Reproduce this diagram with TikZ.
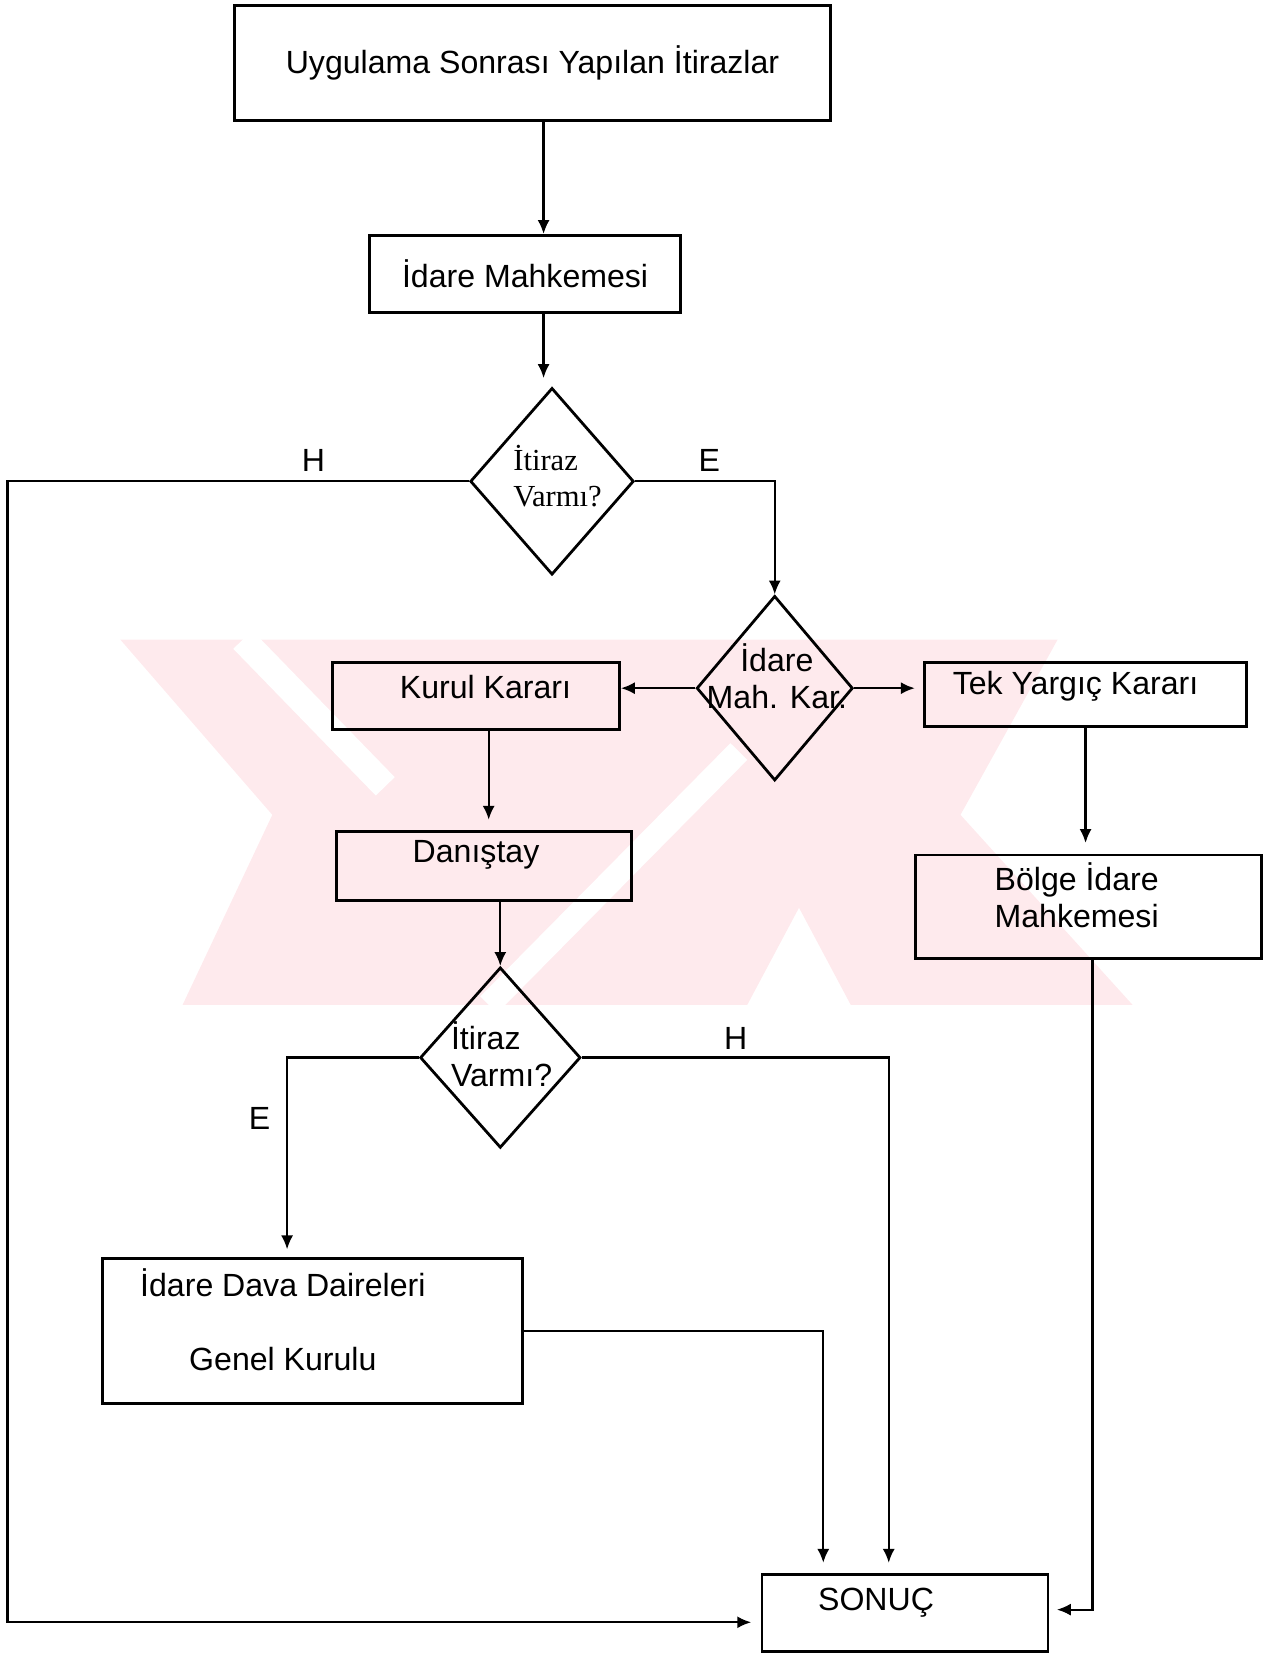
\documentclass[tikz,border=0pt]{standalone}
\usepackage{fontspec}
\setmainfont{Liberation Sans}
\newfontfamily\serifyazi{Liberation Serif}
\usepackage{tikz}
\usetikzlibrary{shapes.geometric, arrows.meta}
\definecolor{filigranPembe}{RGB}{254,234,237}
\tikzstyle{process} = [rectangle, minimum width=3cm, minimum height=1cm, inner sep=0pt, text centered, draw=black, line width=1.5pt, font=\fontsize{17.3}{20}\selectfont]
\tikzstyle{decision} = [diamond, inner sep=0pt, draw=black, line width=1.5pt]
\tikzstyle{plainText} = [inner sep=0pt, font=\fontsize{17.3}{20}\selectfont]
\tikzstyle{serifText} = [inner sep=0pt, font=\serifyazi\fontsize{16.5}{19.5}\selectfont]
\tikzstyle{arrow} = [line width=1.2pt, -{Latex[length=7.5pt,width=6.5pt]}]

\begin{document}
\begin{tikzpicture}[x=0.02cm, y=-0.02cm]
	\useasboundingbox (0,0) rectangle (1207,1568);

	% faint watermark behind the chart
	\fill [filigranPembe] (114,606) -- (1002,606) -- (910,772) -- (1073,952) -- (806,952) -- (757,860) -- (708,952) -- (173,952) -- (258,772) -- cycle;
	\draw [white, line width=0.5cm] (230,606) -- (365,745);
	\draw [white, line width=0.45cm] (463,952) -- (700,712);

	\node (basvuru) [process, minimum width=11.3cm, minimum height=2.18cm] at (504.5,59.5) {Uygulama Sonrası Yapılan İtirazlar};
	\node (idareMah) [process, minimum width=5.9cm, minimum height=1.46cm] at (497.5,259.5) {İdare Mahkemesi};

	\node (itiraz1) [decision, minimum width=3.1cm, minimum height=3.54cm] at (523,456) {};
	\node (itiraz1Yazi) [serifText, align=left, anchor=west] at (486,451) {İtiraz\\Varmı?};

	\node (mahKar) [decision, minimum width=2.96cm, minimum height=3.5cm] at (734,652) {};
	\node (mahKarYazi) [plainText, align=center] at (736,641) {İdare\\Mah. Kar.};

	\node (kurul) [process, minimum width=5.44cm, minimum height=1.26cm] at (451,659.5) {};
	\node (kurulYazi) [plainText] at (460,651) {Kurul Kararı};
	\node (tekYargic) [process, minimum width=6.1cm, minimum height=1.2cm] at (1028.5,658) {};
	\node (tekYargicYazi) [plainText] at (1019,650) {Tek Yargıç Kararı};
	\node (danistay) [process, minimum width=5.58cm, minimum height=1.3cm] at (458.5,820.5) {};
	\node (danistayYazi) [plainText] at (451,810) {Danıştay};
	\node (bolge) [process, minimum width=6.56cm, minimum height=1.96cm] at (1031,859) {};
	\node (bolgeYazi) [plainText, align=left, anchor=west] at (942,848) {Bölge İdare\\Mahkemesi};

	\node (itiraz2) [decision, minimum width=3.04cm, minimum height=3.42cm] at (474,1002) {};
	\node (itiraz2Yazi) [plainText, align=left, anchor=west] at (427,999) {İtiraz\\Varmı?};

	\node (genelKurul) [process, minimum width=7.96cm, minimum height=2.76cm] at (296,1261) {};
	\node (genelKurulYazi) [plainText, align=center] at (268,1250) {İdare Dava Daireleri\\[20pt]Genel Kurulu};

	\node (sonuc) [process, minimum width=5.42cm, minimum height=1.46cm] at (857.5,1528.5) {};
	\node (sonucYazi) [plainText] at (830,1518) {SONUÇ};

	\node (hSol) [plainText] at (297,436) {H};
	\node (eSag) [plainText] at (672,436) {E};
	\node (hAlt) [plainText] at (697,984) {H};
	\node (eAlt) [plainText] at (246,1060) {E};

	\coordinate (okX) at (515,0);
	\coordinate (kurulX) at (463,0);
	\coordinate (eKol) at (272,0);
	\coordinate (hKol) at (842,0);
	\coordinate (kurulKol) at (780,0);
	\coordinate (solKenar) at (7,1537);
	\coordinate (sagKol) at (1035,1525);

	\draw [arrow] (basvuru.south -| okX) -- (idareMah.north -| okX);
	\draw [arrow, shorten >=0.16cm] (idareMah.south -| okX) -- (itiraz1.north -| okX);
	\draw [arrow, shorten >=0.18cm] (itiraz1.west) -- (itiraz1.west -| solKenar) -- (solKenar) -- (solKenar -| sonuc.west);
	\draw [arrow] (itiraz1.east) -| (mahKar.north);
	\draw [arrow] (mahKar.west) -- (mahKar.west -| kurul.east);
	\draw [arrow, shorten >=0.16cm] (mahKar.east) -- (mahKar.east -| tekYargic.west);
	\draw [arrow, shorten >=0.2cm] (kurul.south -| kurulX) -- (danistay.north -| kurulX);
	\draw [arrow, shorten >=0.2cm] (tekYargic.south) -- (tekYargic.south |- bolge.north);
	\draw [arrow] (danistay.south -| itiraz2.north) -- (itiraz2.north);
	\draw [arrow, shorten >=0.14cm] (itiraz2.west) -- (itiraz2.west -| eKol) -- (eKol |- genelKurul.north);
	\draw [arrow, shorten >=0.2cm] (itiraz2.east) -- (itiraz2.east -| hKol) -- (hKol |- sonuc.north);
	\draw [arrow, shorten >=0.2cm] (genelKurul.east) -- (genelKurul.east -| kurulKol) -- (kurulKol |- sonuc.north);
	\draw [arrow, shorten >=0.14cm] (bolge.south -| sagKol) -- (sagKol) -- (sagKol -| sonuc.east);
\end{tikzpicture}
\end{document}
